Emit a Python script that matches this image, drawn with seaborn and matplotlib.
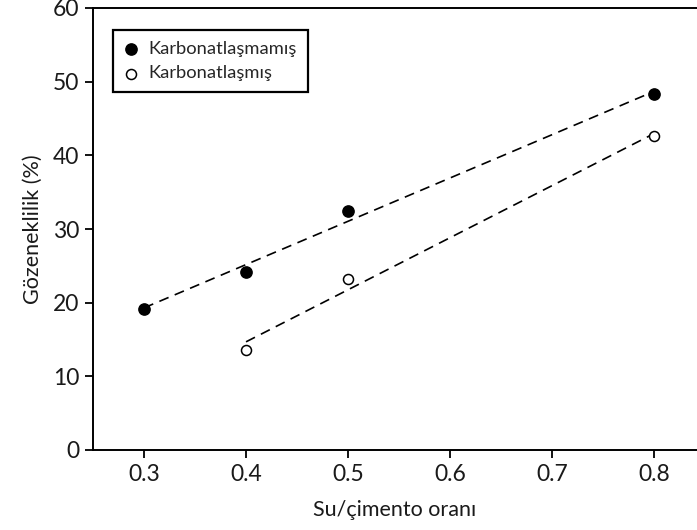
import numpy as np
import pandas as pd
import matplotlib
matplotlib.use("Agg")
import matplotlib.pyplot as plt
import seaborn as sns

# su/cimento orani ve gozeneklilik degerleri
x_karbonatsiz = [0.3, 0.4, 0.5, 0.8]
y_karbonatsiz = [19.2, 24.2, 32.5, 48.3]
x_karbonatli = [0.4, 0.5, 0.8]
y_karbonatli = [13.6, 23.2, 42.6]
etiketler = ["Karbonatlaşmamış", "Karbonatlaşmış"]
x_ticks = [0.3, 0.4, 0.5, 0.6, 0.7, 0.8]
y_ticks = [0, 10, 20, 30, 40, 50, 60]

df1 = pd.DataFrame({"oran": x_karbonatsiz, "gozenek": y_karbonatsiz})
df2 = pd.DataFrame({"oran": x_karbonatli, "gozenek": y_karbonatli})

sns.set_style("ticks")
plt.rcParams["font.family"] = ["Lato", "DejaVu Sans"]

fig = plt.figure(figsize=(6.97, 5.30), dpi=100)
ax = fig.add_axes([93 / 697, 80 / 530, 604 / 697, 442 / 530])

# dashed regression lines
sns.regplot(data=df1, x="oran", y="gozenek", ax=ax, ci=None, scatter=False,
            truncate=True, line_kws={"color": "black", "ls": (0, (6, 4)), "lw": 1.2})
sns.regplot(data=df2, x="oran", y="gozenek", ax=ax, ci=None, scatter=False,
            truncate=True, line_kws={"color": "black", "ls": (0, (6, 4)), "lw": 1.2})

# points
sns.scatterplot(data=df1, x="oran", y="gozenek", ax=ax, color="black", s=66,
                edgecolor="black", linewidth=1, label=etiketler[0], zorder=3)
sns.scatterplot(data=df2, x="oran", y="gozenek", ax=ax, color="white", s=52,
                edgecolor="black", linewidth=1.1, label=etiketler[1], zorder=3)

ax.set_xlim(0.25, 0.842)
ax.set_ylim(0, 60)
ax.set_xticks(x_ticks)
ax.set_xticklabels([str(v) for v in x_ticks])
ax.set_yticks(y_ticks)
ax.tick_params(axis="both", labelsize=16.5, length=6, width=1.3, color="black",
               labelcolor="#1a1a1a", pad=4)
for side in ["left", "bottom", "top"]:
    ax.spines[side].set_linewidth(1.4)
    ax.spines[side].set_color("black")
ax.spines["right"].set_visible(False)
ax.spines["top"].set_visible(True)

ax.set_xlabel("Su/çimento oranı", fontsize=15.5, color="#1a1a1a", labelpad=11)
ax.set_ylabel("Gözeneklilik (%)", fontsize=15.5, color="#1a1a1a", labelpad=7)

leg = ax.legend(loc="upper left", bbox_to_anchor=(0.033, 0.95), fontsize=13.2,
                frameon=True, fancybox=False, handletextpad=0.55, borderpad=0.6,
                labelspacing=0.45, handlelength=0.8, borderaxespad=0)
leg.get_frame().set_edgecolor("black")
leg.get_frame().set_linewidth(1.6)
leg.get_frame().set_alpha(1)

fig.savefig("out.png", dpi=100)
